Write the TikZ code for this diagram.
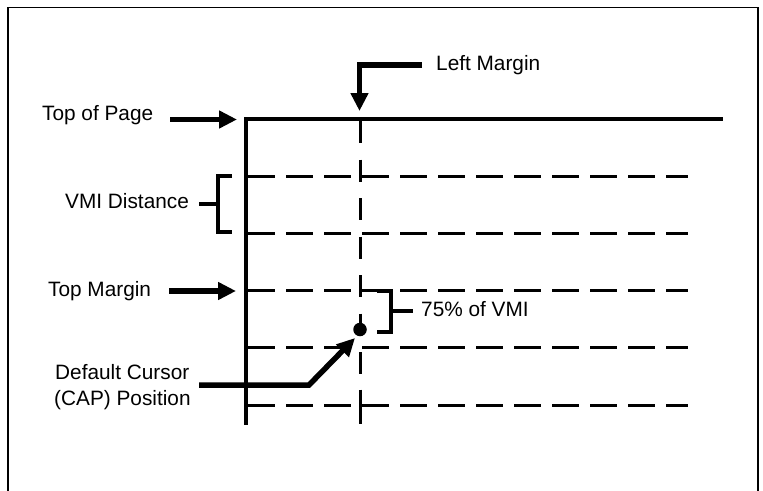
\documentclass[tikz,border=0pt]{standalone}
\usepackage{fontspec}
\setmainfont{Liberation Sans}
\usetikzlibrary{arrows.meta}
\begin{document}
\begin{tikzpicture}[x=1pt,y=-1pt,
  lbl/.style={inner sep=0pt, anchor=base west, font=\fontsize{20.8}{24}\selectfont},
  solidline/.style={line width=4pt},
  dashline/.style={line width=3pt, dash pattern=on 27pt off 11pt},
  vdash/.style={line width=3pt, dash pattern=on 22pt off 16.5pt},
  bigarrow/.style={line width=5.5pt, line join=miter, -{Triangle[length=18pt,width=17pt]}},
  brack/.style={line width=4pt, line join=miter},
  frame/.style={line width=1.6pt}]
\useasboundingbox (0,0) rectangle (763,490);
% frame (bottom edge out of view)
\draw[frame] (8,492) -- (8,7.5) -- (758,7.5) -- (758,492);

% named points
\coordinate (pageL) at (244,119);
\coordinate (pageR) at (723,119);
\coordinate (solidTop) at (246,117);
\coordinate (solidBot) at (246,425);
\coordinate (lmTop) at (360,121);
\coordinate (lmMid) at (360,380);
\coordinate (lmLow) at (360,389.5);
\coordinate (lmBot) at (360,424);

% page lines
\draw[solidline] (pageL) -- (pageR);
\draw[solidline] (solidTop) -- (solidBot);
\foreach \yy/\nm in {176/a,233/b,290.5/c,347/d,405/e}{
  \coordinate (h\nm L) at (248,\yy);
  \coordinate (h\nm R) at (688,\yy);
  \draw[dashline] (h\nm L) -- (h\nm R);
}
\draw[vdash] (lmTop) -- (lmMid);
\draw[line width=3pt] (lmLow) -- (lmBot);

% cursor dot
\node[circle, fill=black, inner sep=0pt, minimum size=13.5pt] (dot) at (360,329.5) {};

% labels
\node[lbl] (top) at (42,120.5) {Top of Page};
\node[lbl] (vmi) at (65,208) {VMI Distance};
\node[lbl] (tm) at (48,296) {Top Margin};
\node[lbl] (dc) at (55,379.5) {Default Cursor};
\node[lbl] (cap) at (54,405.5) {(CAP) Position};
\node[lbl] (lm) at (436,70.7) {Left Margin};
\node[lbl] (pct) at (421,316) {75\% of VMI};

% arrows
\coordinate (topS) at (170,119.5);
\coordinate (topT) at (237,119.5);
\draw[bigarrow] (topS) -- (topT);
\coordinate (tmS) at (169,291);
\coordinate (tmT) at (236,291);
\draw[bigarrow] (tmS) -- (tmT);
\coordinate (lmS) at (422,65);
\coordinate (lmC) at (359.5,65);
\coordinate (lmT) at (359.5,111);
\draw[bigarrow] (lmS) -- (lmC) -- (lmT);
\coordinate (dcS) at (199,385);
\coordinate (dcC) at (309,385);
\coordinate (dcT) at (355,338);
\draw[bigarrow] (dcS) -- (dcC) -- (dcT);

% brackets
\draw[brack] (232,176) -- (218,176) -- (218,232) -- (232,232);
\coordinate (vmiB) at (218,204);
\coordinate (vmiL) at (199,204);
\draw[brack] (vmiB) -- (vmiL);
\draw[brack] (377,290.5) -- (391,290.5) -- (391,331.5) -- (377,331.5);
\coordinate (pctB) at (391,311);
\coordinate (pctR) at (413,311);
\draw[brack] (pctB) -- (pctR);
\end{tikzpicture}
\end{document}
